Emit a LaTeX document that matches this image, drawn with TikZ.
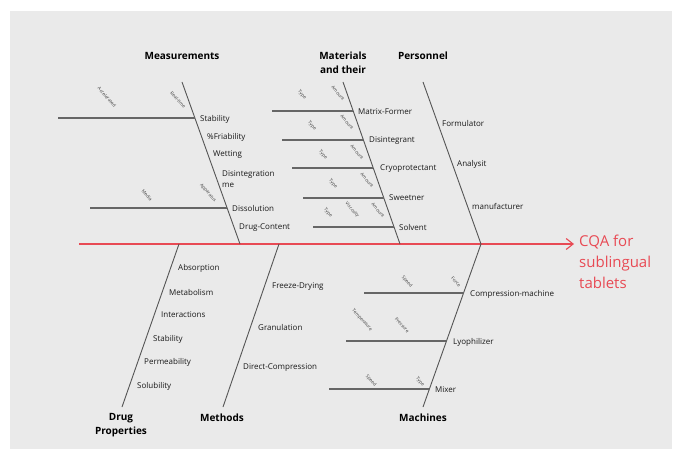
\documentclass[tikz,border=0pt]{standalone}
\usepackage{fontspec}
\setmainfont{Open Sans}
\usetikzlibrary{arrows.meta, calc}

\definecolor{bggray}{RGB}{234,234,234}
\definecolor{bonegray}{RGB}{85,85,85}
\definecolor{cqared}{RGB}{232,74,84}

\tikzset{
  spine/.style={cqared, line width=1.1pt, -{Straight Barb[length=7pt, width=11pt]}},
  bone/.style={bonegray, line width=0.9pt},
  rib/.style={bonegray!90, line width=1.3pt},
  item/.style={anchor=west, inner sep=0pt, text=black!90, font=\fontsize{8}{11.5}\selectfont},
  head/.style={inner sep=0pt, align=center, font=\fontsize{10}{14.5}\selectfont\bfseries},
  note/.style={inner sep=0pt, rotate=-48, text=black!75, font=\fontsize{4.6}{5}\selectfont},
  cqa/.style={anchor=west, inner sep=0pt, align=left, text=cqared, font=\fontsize{15}{21}\selectfont},
}

\begin{document}
\begin{tikzpicture}[x=1pt, y=-1pt]
  \useasboundingbox (0,0) rectangle (680,457);
  \fill[bggray] (10,11) rectangle (672,449);

  % spine and effect
  \coordinate (tail) at (79,244);
  \coordinate (head) at (574,244);
  \draw[spine] (tail) -- (head);
  \node[cqa] (cqa) at (579,262) {CQA for\\sublingual\\tablets};

  % main bones
  \coordinate (meastop) at (182,82);  \coordinate (measbot) at (240,244);
  \coordinate (mattop)  at (343,82);  \coordinate (matbot)  at (400,244);
  \coordinate (perstop) at (423,82);  \coordinate (persbot) at (481,244);
  \coordinate (drugtop) at (179,244); \coordinate (drugbot) at (122,407);
  \coordinate (methtop) at (279,244); \coordinate (methbot) at (223,407);
  \coordinate (machtop) at (481,244); \coordinate (machbot) at (423,407);
  \foreach \b in {meas,mat,pers,drug,meth,mach}
    \draw[bone] (\b top) -- (\b bot);

  % headings
  \node[head] (measurements) at (182,56) {Measurements};
  \node[head] (materials) at (343,63) {Materials\\and their};
  \node[head] (personnel) at (423,56) {Personnel};
  \node[head] (drugprop) at (121,425) {Drug\\Properties};
  \node[head] (methods) at (222,418) {Methods};
  \node[head] (machines) at (423,418) {Machines};

  % measurements
  \coordinate (ribstab) at ($(meastop)!0.222!(measbot)$);
  \coordinate (ribdiss) at ($(meastop)!0.778!(measbot)$);
  \draw[rib] (ribstab) -- ++(-137,0);
  \draw[rib] (ribdiss) -- ++(-137,0);
  \node[note] (accel) at (107,97) {Accelerated};
  \node[note] (realtime) at (178,100) {Real-time};
  \node[note] (media) at (147,195) {Media};
  \node[note] (appar) at (208,193) {Apparatus};
  \node[item] (stab) at (200,119) {Stability};
  \node[item] (friab) at (207,137) {\%Friability};
  \node[item] (wett) at (213,155) {Wetting};
  \node[item, align=left] (disint) at (222,179) {Disintegration\\me};
  \node[item] (diss) at (232,209) {Dissolution};
  \node[item] (content) at (239,228) {Drug-Content};

  % materials
  \foreach \t/\n in {0.179/a, 0.358/b, 0.531/c, 0.716/d, 0.895/e} {
    \coordinate (rib\n) at ($(mattop)!\t!(matbot)$);
    \draw[rib] (rib\n) -- ++(-81,0);
  }
  \foreach \x/\y/\n in {302/95/a, 312/126/b, 323/155/c, 333/184/d, 328/213/e}
    \node[note] (type\n) at (\x,\y) {Type};
  \foreach \x/\y/\n in {338/93/a, 347/122/b, 357/152/c, 367/180/d, 378/210/e}
    \node[note] (amount\n) at (\x,\y) {Amount};
  \node[note] (visc) at (352,210) {Viscosity};
  \node[item] (matrix) at (358,112) {Matrix-Former};
  \node[item] (disgr) at (369,141) {Disintegrant};
  \node[item] (cryo) at (380,169) {Cryoprotectant};
  \node[item] (sweet) at (389,198) {Sweetner};
  \node[item] (solv) at (399,228) {Solvent};

  % personnel
  \node[item] (formul) at (442,124) {Formulator};
  \node[item] (analy) at (457,164) {Analysit};
  \node[item] (manuf) at (472,206) {manufacturer};

  % drug properties
  \node[item] (absorp) at (178,268) {Absorption};
  \node[item] (metab) at (169,292) {Metabolism};
  \node[item] (inter) at (161,315) {Interactions};
  \node[item] (dstab) at (153,339) {Stability};
  \node[item] (perm) at (144,362) {Permeability};
  \node[item] (solub) at (137,386) {Solubility};

  % methods
  \node[item] (freeze) at (272,287) {Freeze-Drying};
  \node[item] (granul) at (258,327) {Granulation};
  \node[item] (direct) at (243,368) {Direct-Compression};

  % machines
  \coordinate (ribcomp) at ($(machtop)!0.301!(machbot)$);
  \coordinate (riblyo) at ($(machtop)!0.595!(machbot)$);
  \coordinate (ribmix) at ($(machtop)!0.890!(machbot)$);
  \draw[rib] (ribcomp) -- ++(-100,0);
  \draw[rib] (riblyo) -- ++(-100,0);
  \draw[rib] (ribmix) -- ++(-100,0);
  \node[note] (cspeed) at (407,282) {Speed};
  \node[note] (cforce) at (456,282) {Force};
  \node[note] (ltemp) at (362,320) {Temperature};
  \node[note] (lpress) at (402,325) {Pressure};
  \node[note] (mspeed) at (371,381) {Speed};
  \node[note] (mtype) at (420,382) {Type};
  \node[item] (compm) at (470,294) {Compression-machine};
  \node[item] (lyoph) at (453,342) {Lyophilizer};
  \node[item] (mixer) at (435,390) {Mixer};
\end{tikzpicture}
\end{document}
